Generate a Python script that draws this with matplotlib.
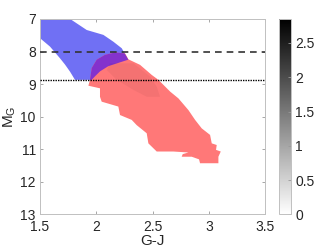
import numpy as np
import matplotlib
matplotlib.use("Agg")
import matplotlib.pyplot as plt
from matplotlib.patches import Polygon
from matplotlib.colors import Normalize
from matplotlib.cm import ScalarMappable

plt.rcParams['font.family'] = ['Liberation Sans', 'DejaVu Sans']

# outline of the blue region (G-J, M_G)
blue_gj = [1.5, 1.767, 1.915, 2.063, 2.152, 2.226, 2.285, 2.196, 2.107, 2.033, 1.989, 1.959,
           1.811, 1.767, 1.722, 1.678, 1.589, 1.5]
blue_mg = [7.0, 7.0, 7.34, 7.49, 7.70, 7.90, 8.25, 8.35, 8.45, 8.61, 8.76, 8.87,
           8.87, 8.62, 8.40, 8.21, 7.85, 7.59]

# outline of the red region
red_gj = [1.930, 1.944, 1.959, 2.004, 2.078, 2.167, 2.256, 2.285, 2.389, 2.493, 2.552, 2.656,
          2.730, 2.819, 2.878, 2.937, 3.011, 3.026, 3.070, 3.064, 3.106, 3.085, 3.085,
          2.922, 2.913, 2.848, 2.759, 2.768, 2.819, 2.685, 2.537, 2.463, 2.448, 2.359,
          2.315, 2.211, 2.196, 2.048, 2.033, 2.033]
red_mg = [9.05, 8.87, 8.51, 8.25, 8.10, 8.03, 8.06, 8.24, 8.41, 8.72, 8.87, 9.23,
          9.44, 9.80, 10.10, 10.36, 10.56, 10.82, 10.87, 11.02, 11.07, 11.23, 11.43,
          11.43, 11.31, 11.23, 11.23, 11.15, 11.10, 11.07, 11.07, 10.82, 10.51, 10.26,
          10.10, 9.95, 9.69, 9.54, 9.39, 9.13]

# darker (denser) core inside the red region
core_gj = [2.122, 2.330, 2.478, 2.537, 2.567, 2.448, 2.330, 2.181, 2.093]
core_mg = [8.36, 8.36, 8.77, 9.08, 9.39, 9.39, 9.18, 8.87, 8.57]

dashed_mg = 8.02
dotted_mg = 8.86
cbar_max = 2.85

fig = plt.figure(figsize=(3.32, 2.49), dpi=100)
ax = fig.add_axes([0.1205, 0.139, 0.678, 0.785])

blue = Polygon(np.column_stack([blue_gj, blue_mg]), closed=True, fc='#7070f4', ec='none', zorder=1)
red = Polygon(np.column_stack([red_gj, red_mg]), closed=True, fc='#ff7878', ec='none', zorder=2)
ax.add_patch(blue)
ax.add_patch(red)
# overlap
over = Polygon(np.column_stack([blue_gj, blue_mg]), closed=True, fc='#8432cc', ec='none', zorder=3)
ax.add_patch(over)
over.set_clip_path(red)
core = Polygon(np.column_stack([core_gj, core_mg]), closed=True, fc='black', alpha=0.045, ec='none', zorder=3)
ax.add_patch(core)
core.set_clip_path(red)

ax.axhline(dashed_mg, color='#333333', lw=1.2, ls=(0, (4, 3)), zorder=4)
ax.axhline(dotted_mg, color='black', lw=1.0, ls=(0, (1, 0.8)), zorder=4)

ax.set_xlim(1.5, 3.5)
ax.set_ylim(13, 7)
ax.set_xticks([1.5, 2, 2.5, 3, 3.5])
ax.set_xticklabels(['1.5', '2', '2.5', '3', '3.5'])
ax.set_yticks(range(7, 14))
ax.tick_params(direction='in', length=2.5, width=0.6, color='#999999', labelsize=10,
               top=True, right=True, pad=3, labelcolor='#262626')
ax.tick_params(axis='x', pad=4)
for s in ax.spines.values():
    s.set_color('#c0c0c0')
    s.set_linewidth(0.7)
ax.set_xlabel('G-J', fontsize=11, color='#262626', labelpad=0)
ax.set_ylabel(r'$\mathregular{M_G}$', fontsize=11, color='#262626', labelpad=2)

cax = fig.add_axes([0.841, 0.139, 0.036, 0.785])
sm = ScalarMappable(norm=Normalize(0, cbar_max), cmap='gray_r')
cb = fig.colorbar(sm, cax=cax, ticks=[0, 0.5, 1, 1.5, 2, 2.5])
cb.ax.set_yticklabels(['0', '0.5', '1', '1.5', '2', '2.5'])
cb.ax.tick_params(direction='in', length=2.5, width=0.6, color='#999999', labelsize=10,
                  labelcolor='#262626', pad=3)
cb.outline.set_edgecolor('#c0c0c0')
cb.outline.set_linewidth(0.7)

fig.savefig('out.png', dpi=100)
